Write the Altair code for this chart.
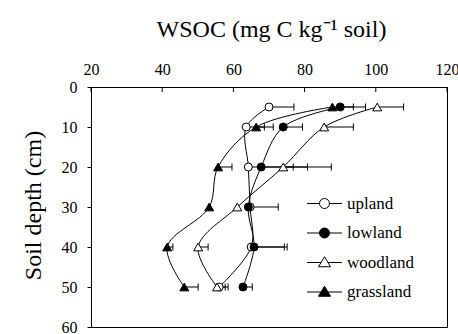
import altair as alt
import pandas as pd

# ---------------- data ----------------
depth = [5, 10, 20, 30, 40, 50]
series_names = ["upland", "lowland", "woodland", "grassland"]

upland = [70.0, 63.6, 64.2, 64.7, 65.0, 56.0]
upland_hi = [77.0, 68.7, 80.8, 72.6, 74.3, 58.5]
lowland = [90.0, 74.0, 67.8, 64.2, 65.8, 62.7]
lowland_hi = [97.1, 79.4, 76.8, None, 75.1, 65.3]
woodland = [100.4, 85.5, 74.0, 61.1, 50.1, 55.4]
woodland_hi = [107.8, 93.7, 87.5, None, 52.9, 57.7]
grassland = [87.8, 66.4, 55.7, 53.2, 41.4, 46.2]
grassland_hi = [93.7, 71.2, 59.6, None, 43.0, 50.1]

x_ticks = [20, 40, 60, 80, 100, 120]
y_ticks = [0, 10, 20, 30, 40, 50, 60]

rows = []
for name, vals, his in [("upland", upland, upland_hi), ("lowland", lowland, lowland_hi),
                        ("woodland", woodland, woodland_hi), ("grassland", grassland, grassland_hi)]:
    for d, v, h in zip(depth, vals, his):
        rows.append({"series": name, "depth": d, "wsoc": v, "upper": h})
df = pd.DataFrame(rows)
tick_df = pd.DataFrame({"t": x_ticks})

FONT = "Liberation Serif"

xscale = alt.Scale(domain=[20, 120], nice=False, zero=False)
yscale = alt.Scale(domain=[0, 60], reverse=True, nice=False, zero=False)

x_axis = alt.Axis(orient="top", values=x_ticks, ticks=False, grid=False, labelPadding=10,
                  labelFont=FONT, titleFont=FONT, labelColor="black", titleColor="black",
                  labelFontSize=16, labelFlush=False, labelOverlap=False, domainColor="black",
                  title="WSOC (mg C kg\u207b\u00b9 soil)", titleFontSize=24, titleFontWeight="normal",
                  titleX=180, titleY=-51, titleAlign="center", titleBaseline="alphabetic")
y_axis = alt.Axis(values=y_ticks, tickSize=4, grid=False, labelPadding=10, labelFontSize=16,
                  labelFont=FONT, titleFont=FONT, labelColor="black", titleColor="black",
                  labelFlush=False, labelOverlap=False, domainColor="black", tickColor="black",
                  title="Soil depth (cm)", titleFontSize=24, titleFontWeight="normal", titleAngle=270,
                  titleX=-58, titleY=118, titleAlign="center", titleBaseline="middle")

X = alt.X("wsoc:Q", scale=xscale, axis=x_axis)
Y = alt.Y("depth:Q", scale=yscale, axis=y_axis)

fill_scale = alt.Scale(domain=series_names, range=["white", "black", "white", "black"])
circle_path = "M-3.5,0H-1M1,0H3.5M-1,0A1,1,0,1,0,1,0A1,1,0,1,0,-1,0Z"
tri_path = "M-3.5,0H-0.69M0.69,0H3.5M0,-1.15L1.2,0.85L-1.2,0.85Z"
shape_scale = alt.Scale(domain=series_names, range=[circle_path, circle_path, tri_path, tri_path])

legend = alt.Legend(title=None, orient="none", legendX=225, legendY=108, symbolSize=100,
                    symbolStrokeColor="black", symbolStrokeWidth=1, labelFont=FONT,
                    labelFontSize=17, labelColor="black", labelOffset=14, rowPadding=11.5,
                    padding=0)

base = alt.Chart(df)

lines = base.mark_line(interpolate="catmull-rom", color="black", strokeWidth=1).encode(
    x=X, y=Y, detail="series:N", order="depth:Q")

err = base.transform_filter("isValid(datum.upper)").mark_rule(color="black", strokeWidth=1).encode(
    x=X, x2="upper:Q", y=Y)

caps = base.transform_filter("isValid(datum.upper)").mark_tick(
    orient="vertical", color="black", thickness=1, size=7, opacity=1).encode(
    x=alt.X("upper:Q", scale=xscale, axis=x_axis), y=Y)

xt = alt.Chart(tick_df).mark_rule(color="black", strokeWidth=1).encode(
    x=alt.X("t:Q", scale=xscale, axis=x_axis), y=alt.value(0), y2=alt.value(5))

circles = base.transform_filter("datum.series == 'upland' || datum.series == 'lowland'").mark_point(
    shape="circle", size=64, stroke="black", strokeWidth=1, opacity=1).encode(
    x=X, y=Y, fill=alt.Fill("series:N", scale=fill_scale, legend=legend))

tris = base.transform_filter("datum.series == 'woodland' || datum.series == 'grassland'").mark_point(
    shape="triangle-up", size=80, stroke="black", strokeWidth=1, opacity=1).encode(
    x=X, y=Y, fill=alt.Fill("series:N", scale=fill_scale, legend=legend))

leg = base.transform_filter("false").mark_point(size=100, stroke="black", strokeWidth=1, opacity=1).encode(
    x=X, y=Y,
    shape=alt.Shape("series:N", scale=shape_scale, legend=legend),
    fill=alt.Fill("series:N", scale=fill_scale, legend=legend))

chart = alt.layer(lines, err, caps, xt, circles, tris, leg).properties(
    width=356, height=240,
    autosize=alt.AutoSizeParams(type="none"),
    padding={"left": 91, "top": 87, "right": 11, "bottom": 7},
    background="white",
).configure(font=FONT).configure_view(stroke="black", strokeWidth=1).configure_axis(
    labelFont=FONT, titleFont=FONT, labelColor="black", titleColor="black",
    domainColor="black", tickColor="black", titleFontWeight="normal", domainWidth=1)

chart.save("out.html", embed_options={"renderer": "svg", "actions": False})
